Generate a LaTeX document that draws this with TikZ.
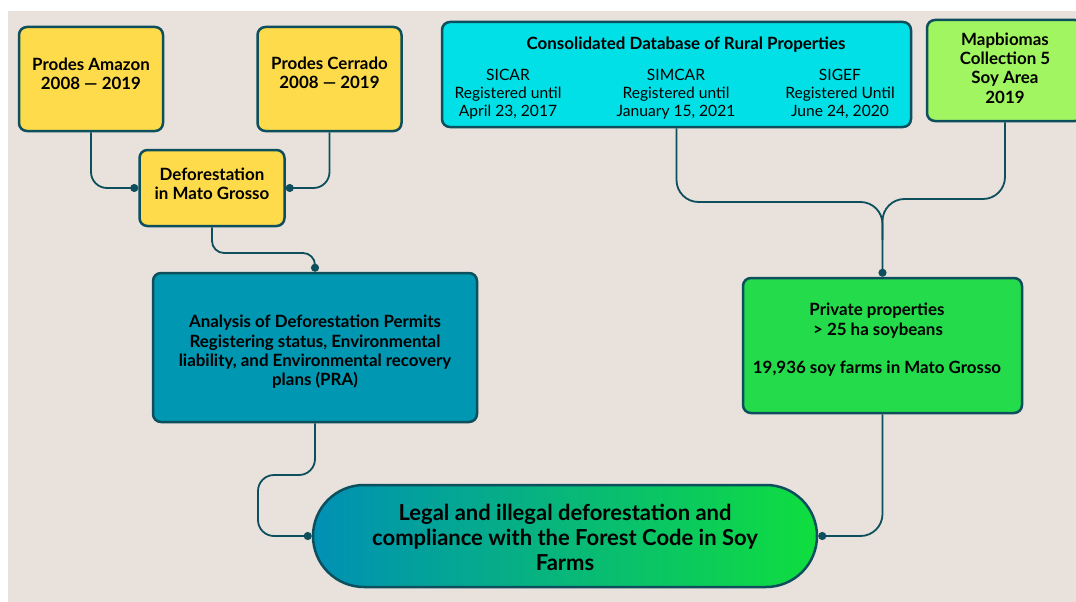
\documentclass[tikz,border=0pt]{standalone}
\usepackage{fontspec}
\setmainfont{Lato}
\usetikzlibrary{arrows.meta,shapes.misc}
\definecolor{bg}{HTML}{E8E1DC}
\definecolor{edge}{HTML}{0D4F5C}
\definecolor{yel}{HTML}{FDDB4A}
\definecolor{cyanbox}{HTML}{00E0E6}
\definecolor{lime}{HTML}{A0F560}
\definecolor{tealbox}{HTML}{0097B2}
\definecolor{greenbox}{HTML}{24DB4B}
\definecolor{pillL}{HTML}{0090B5}
\definecolor{pillR}{HTML}{0FDE3E}
\tikzset{
  box/.style={draw=edge, line width=2.5pt, rounded corners=8pt, inner sep=0pt},
  txt/.style={align=center, inner sep=0pt, font=\fontsize{16.9}{19.4}\selectfont\bfseries},
  txtreg/.style={align=center, inner sep=0pt, font=\fontsize{15.6}{17.8}\selectfont},
  conn/.style={draw=edge, line width=1.8pt, rounded corners=16pt, -{Circle[length=8pt,width=8pt]}},
  connplain/.style={draw=edge, line width=1.8pt, rounded corners=22pt},
}
\begin{document}
\begin{tikzpicture}[x=1pt,y=-1pt]
\useasboundingbox (0,0) rectangle (1076,602);
\fill[white] (0,0) rectangle (1076,602);
\fill[bg] (8,11) rectangle (1076,602);

% top-left yellow boxes
\node[box, fill=yel, minimum width=144pt, minimum height=104pt] (amz) at (91,79) {};
\node[txt] (amzt) at (91,74) {Prodes Amazon\\2008 — 2019};
\node[box, fill=yel, minimum width=144pt, minimum height=104pt] (cer) at (329.5,79) {};
\node[txt] (cert) at (329.5,73) {Prodes Cerrado\\2008 — 2019};
\node[box, fill=yel, minimum width=145pt, minimum height=76pt] (def) at (212,188) {};
\node[txt] (deft) at (212,184) {Deforestation\\in Mato Grosso};

% analysis box
\node[box, fill=tealbox, minimum width=324pt, minimum height=149pt] (ana) at (315,347.5) {};
\node[txt] (anat) at (315,352) {Analysis of Deforestation Permits\\Registering status, Environmental\\liability, and Environmental recovery\\plans (PRA)};

% consolidated database
\node[box, fill=cyanbox, minimum width=469pt, minimum height=105pt] (cons) at (676.5,74.5) {};
\node[txt] (const) at (686,45) {Consolidated Database of Rural Properties};
\node[txtreg] (sicar) at (508,94) {SICAR\\Registered until\\April 23, 2017};
\node[txtreg] (simcar) at (676,94) {SIMCAR\\Registered until\\January 15, 2021};
\node[txtreg] (sigef) at (840,94) {SIGEF\\Registered Until\\June 24, 2020};

% mapbiomas (clipped at right edge)
\begin{scope}
\clip (0,0) rectangle (1076,602);
\node[box, fill=lime, minimum width=156pt, minimum height=101pt] (map) at (1005,70.5) {};
\end{scope}
\node[txt] (mapt) at (1005,68) {Mapbiomas\\Collection 5\\Soy Area\\2019};

% private properties
\node[box, fill=greenbox, minimum width=279pt, minimum height=135pt] (pri) at (882.5,345.5) {};
\node[txt] (prit) at (877,340) {Private properties\\\hspace*{2pt}> 25 ha soybeans\\[19pt]19,936 soy farms in Mato Grosso};

% final pill
\node[rounded rectangle, draw=edge, line width=2.5pt, left color=pillL, right color=pillR,
      minimum width=504pt, minimum height=102pt, inner sep=0pt] (pill) at (565,536) {};
\node[align=center, inner sep=0pt, font=\fontsize{22}{25}\selectfont\bfseries] (pillt) at (565,537)
  {Legal and illegal deforestation and\\compliance with the Forest Code in Soy\\Farms};

% connectors
\draw[conn] (amz.south) |- (def.west);
\draw[conn] (cer.south) |- (def.east);
\draw[conn, rounded corners=12pt] (def.south) |- (ana.north |- 0,253) -- (ana.north);
\draw[conn] (ana.south) |- (258,475) |- (pill.west);
\draw[conn, rounded corners=22pt] (pri.south) |- (pill.east);
\draw[conn, rounded corners=22pt] (cons.south) |- (882.5,202) -- (pri.north);
\draw[connplain] (map.south) |- (882.5,199) -- (882.5,240);
\end{tikzpicture}
\end{document}
